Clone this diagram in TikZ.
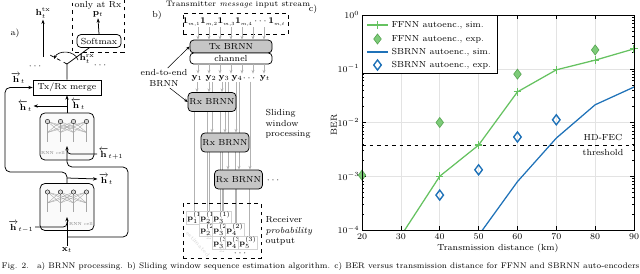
\documentclass[tikz,border=0pt]{standalone}
\usepackage{amsmath}
\usepackage{amssymb}
\usepackage{tikz}
\usetikzlibrary{arrows.meta,shapes.geometric,plotmarks,backgrounds}
\definecolor{ffgreen}{RGB}{102,194,97}
\definecolor{sbblue}{RGB}{31,114,184}
\newcommand{\msub}[1]{\scalebox{0.75}{$\scriptstyle #1$}}

\begin{document}
\begin{tikzpicture}[
    x=0.028cm, y=-0.028cm,
    every node/.style={font=\fontsize{7}{8.5}\selectfont, inner sep=1pt},
    arr/.style={-{Stealth[length=3.5pt,width=2.6pt]}, line width=0.6pt},
    garr/.style={-{Stealth[length=3pt,width=2.4pt]}, draw=gray!60, line width=0.5pt},
    gline/.style={draw=gray!60, line width=0.5pt},
    blk/.style={draw, line width=0.6pt, inner sep=1pt},
    cellbox/.style={draw, line width=0.6pt, rounded corners=4pt, fill=gray!4,
        minimum width=1.51cm, minimum height=1.32cm},
    brnn/.style={draw, line width=0.6pt, rounded corners=3pt, fill=gray!45,
        inner sep=0.5pt},
    pbox/.style={draw=gray!35, fill=white, inner sep=0.5pt,
        font=\fontsize{6}{7}\selectfont},
    txt/.style={align=left, anchor=west},
    tck/.style={line width=0.4pt},
    grd/.style={draw=gray!22, line width=0.4pt},
    net/.pic={
        \foreach \a in {-19.5,-6.5,6.5,19.5}
            \foreach \b in {-19.5,-6.5,6.5,19.5}
                \draw[gray!70, line width=0.3pt] (\a,-15) -- (\b,-4);
        \foreach \a in {-19.5,-6.5,6.5,19.5} {
            \draw[gray!70, line width=0.3pt] (\a,-4) -- (\a,5);
            \draw[fill=gray!30, line width=0.3pt] (\a,-15) circle (2.2);
        }
    }
]
\useasboundingbox (0,0) rectangle (640,274);

\node (alab) at (15,33) {a)};
\node[blk, minimum width=1.9cm, minimum height=0.42cm] (merge) at (67,87.5) {Tx/Rx merge};
\node[blk, rounded corners=3pt, minimum width=1.23cm, minimum height=0.36cm] (softmax) at (99,41) {Softmax};
\node (onlyrx) at (98,5) {only at Rx};
\node (pt) at (98,14) {$\mathbf{p}_t$};
\node (htx) at (43,13) {$\mathbf{h}_t^{\mathrm{tx}}$};
\node (hrx) at (87,59) {$\mathbf{h}_t^{\mathrm{rx}}$};
\node (ldots) at (36,66) {$\cdots$};
\node (rdots) at (101,65) {$\cdots$};
\draw[dashed, line width=0.6pt] (72,-5) -- (72,52) -- (124,52) -- (124,-5);
\coordinate (pivot) at (67,64);
\coordinate (txsw) at (49,54.5);
\coordinate (txbase) at (43,57);
\draw[line width=0.6pt] (merge.north) -- (pivot) -- (softmax.215);
\draw[dashed, line width=0.6pt] (pivot) -- (txsw);
\draw[arr] (txbase) -- (htx.south);
\draw[arr] (softmax.north) -- (pt.south);
\draw[-{Stealth[length=3pt,width=2.4pt]}, line width=0.5pt]
    (78,60) .. controls (75,50) and (58,50) .. (54,59);

\node[cellbox] (bwcell) at (67,136.5) {};
\pic at (67,136.5) {net};
\node[cellbox] (fwcell) at (67,207) {};
\pic at (67,207) {net};
\node[font=\fontsize{3.5}{4}\selectfont, text=gray] (bwname) at (53,153) {RNN cell};
\node[font=\fontsize{3.5}{4}\selectfont, text=gray] (fwname) at (81,224) {RNN cell};
\coordinate (bwsplit) at (67,106);
\coordinate (bwin) at (67,146);
\coordinate (fwin) at (67,217);
\coordinate (fwtop) at (67,172);
\coordinate (fwsplit) at (67,178);
\coordinate (xsplit) at (67,237);
\node (hbwl) at (25,106) {$\overleftarrow{\mathbf{h}}_t$};
\node (hbwr) at (78,104) {$\overleftarrow{\mathbf{h}}_t$};
\node (hfwl) at (18,78) {$\overrightarrow{\mathbf{h}}_t$};
\node (hfwr) at (106,179) {$\overrightarrow{\mathbf{h}}_t$};
\node (hnext) at (111,154) {$\overleftarrow{\mathbf{h}}_{t+1}$};
\node (hprev) at (21,227) {$\overrightarrow{\mathbf{h}}_{t-1}$};
\node (xt) at (67,250) {$\mathbf{x}_t$};
\draw[arr] (bwcell.north) -- (merge.south);
\draw[arr] (bwsplit) -- (hbwl.east);
\draw[arr, rounded corners=4pt] (fwcell.north) -- (fwtop) -- (5,172) |- (merge.west);
\draw[arr] (fwsplit) -- (hfwr.west);
\draw[arr] (xt.north) -- (fwin);
\draw[arr, rounded corners=4pt] (xsplit) -- (128,237) -- (128,167) -- (67,167) -- (bwin);
\draw[line width=0.6pt, rounded corners=3pt] (hnext.west) -- (67,154) -- (67,150);
\draw[line width=0.6pt, rounded corners=3pt] (hprev.east) -- (67,227) -- (67,222);

\node (blab) at (157,15) {b)};
\node[font=\fontsize{6.3}{7}\selectfont] (title) at (238,5) {Transmitter \emph{message} input stream};
\node[draw, dashed, line width=0.6pt, minimum width=2.94cm, minimum height=0.59cm] (msgbox) at (235.5,23.5) {};
\node (msg) at (234,22) {$\mathbf{1}_{\msub{m,1}}\mathbf{1}_{\msub{m,2}}\mathbf{1}_{\msub{m,3}}\mathbf{1}_{\msub{m,4}}\cdots\mathbf{1}_{\msub{m,t}}$};
\node[brnn, minimum width=2.3cm, minimum height=0.36cm] (txbrnn) at (231,46.5) {Tx BRNN};
\node[brnn, fill=white, minimum width=2.3cm, minimum height=0.31cm] (channel) at (231,58.5) {channel};
\node (y1) at (197,78) {$\mathbf{y}_1$};
\node (y2) at (211,78) {$\mathbf{y}_2$};
\node (y3) at (224,78) {$\mathbf{y}_3$};
\node (y4) at (237,78) {$\mathbf{y}_4$};
\node (ydots) at (250,78) {$\cdots$};
\node (yt) at (265,78) {$\mathbf{y}_t$};
\foreach \xx in {198,209,220,231,242,253,264} {
    \draw[garr] (\xx,0 |- msg.south) -- (\xx,0 |- txbrnn.north);
    \draw[garr] (\xx,0 |- channel.south) -- (\xx,0 |- y1.north);
}
\node[brnn, minimum width=1.34cm, minimum height=0.53cm] (rx1) at (212,102) {Rx BRNN};
\node[brnn, minimum width=1.34cm, minimum height=0.53cm] (rx2) at (225,142.5) {Rx BRNN};
\node[brnn, minimum width=1.34cm, minimum height=0.53cm] (rx3) at (238.5,179.5) {Rx BRNN};
\node (rxdots) at (274,180) {$\cdots$};
\node[align=center] (e2e) at (164,78) {end-to-end\\BRNN};
\draw[-{Stealth[length=3pt,width=2.4pt]}, line width=0.4pt] (e2e.70) -- (txbrnn.west);
\draw[-{Stealth[length=3pt,width=2.4pt]}, line width=0.4pt] (e2e.-60) -- (rx1.west);
\node[txt] (slide) at (264,124) {Sliding\\window\\processing};

\node[pbox] (p11) at (196,218) {$\mathbf{p}_1^{(1)}$};
\node[pbox] (p21) at (209,218) {$\mathbf{p}_2^{(1)}$};
\node[pbox] (p31) at (222,218) {$\mathbf{p}_3^{(1)}$};
\node[pbox] (p22) at (209,230) {$\mathbf{p}_2^{(2)}$};
\node[pbox] (p32) at (222,230) {$\mathbf{p}_3^{(2)}$};
\node[pbox] (p42) at (235,230) {$\mathbf{p}_4^{(2)}$};
\node[pbox] (p33) at (222,243) {$\mathbf{p}_3^{(3)}$};
\node[pbox] (p43) at (235,243) {$\mathbf{p}_4^{(3)}$};
\node[pbox] (p53) at (248,243) {$\mathbf{p}_5^{(3)}$};
\node (pdots) at (241,253) {$\cdots$};
\node[rotate=-48, font=\fontsize{4.5}{5}\selectfont, text=gray!35] (estim) at (198,244) {estimated};
\node[font=\fontsize{5}{6}\selectfont, text=gray!40] (sig1) at (209,237) {$\Sigma$};
\node[font=\fontsize{5}{6}\selectfont, text=gray!40] (sig2) at (222,250) {$\Sigma$};
\node[draw, dashed, line width=0.6pt, minimum width=2.18cm, minimum height=1.54cm] (rxout) at (222,230.5) {};
\node[txt] (rxlab) at (264,231) {Receiver\\\emph{probability}\\output};

\begin{scope}[on background layer]
\foreach \xx/\src/\dst in {197/y1/rx1, 209/y2/rx1, 212/y2/rx2, 222/y3/rx1, 225/y3/rx2,
        228/y3/rx3, 236/y4/rx2, 239/y4/rx3, 250/ydots/rx3}
    \draw[garr] (\xx,0 |- \src.south) -- (\xx,0 |- \dst.north);
\foreach \xx/\src/\dst in {194.2/rx1/p11, 207.2/rx1/p21, 220.2/rx1/p31, 209/rx2/p22,
        222/rx2/p32, 235/rx2/p42, 223.8/rx3/p33, 236.8/rx3/p43, 249.8/rx3/p53}
    \draw[gline] (\xx,0 |- \src.south) -- (\xx,0 |- \dst.north);
\end{scope}

\node (clab) at (313,9) {c)};
\begin{scope}[shift={(284.28,15)}, x=0.10881cm, y=1.505cm]
\foreach \k in {30,40,...,80}
    \draw[grd] (\k,-4) -- (\k,0);
\foreach \l in {-1,-2,-3}
    \draw[grd] (20,\l) -- (90,\l);
\foreach \l in {-4,-3,-2,-1}
    \foreach \m in {2,...,9} {
        \draw[tck] (20,{\l+log10(\m)}) -- ++(1.8pt,0);
        \draw[tck] (90,{\l+log10(\m)}) -- ++(-1.8pt,0);
    }
\foreach \l in {-4,-3,-2,-1,0} {
    \draw[tck] (20,\l) -- ++(3.5pt,0);
    \draw[tck] (90,\l) -- ++(-3.5pt,0);
    \node[anchor=east] (yl\l) at ([xshift=-1pt]20,\l) {$10^{\l}$};
}
\foreach \k in {20,30,...,90} {
    \draw[tck] (\k,-4) -- ++(0,3.5pt);
    \draw[tck] (\k,0) -- ++(0,-3.5pt);
    \node[anchor=north] (xl\k) at ([yshift=-2pt]\k,-4) {\k};
}
\begin{scope}
\clip (20,-4) rectangle (90,0);
\draw[ffgreen, line width=1pt] (30,-4.11) -- (40,-3) -- (50,-2.42) -- (60,-1.43)
    -- (70,-1.02) -- (80,-0.84) -- (90,-0.63);
\draw[sbblue, line width=1pt] (50,-4.1) -- (60,-3.1) -- (70,-2.29) -- (80,-1.67) -- (90,-1.34);
\draw[dashed, line width=0.6pt] (20,-2.42) -- (90,-2.42);
\end{scope}
\draw[ffgreen] plot[only marks, mark=+, mark size=3pt, mark options={line width=1pt}]
    coordinates {(40,-3) (50,-2.42) (60,-1.43) (70,-1.02) (80,-0.84) (90,-0.63)};
\draw[ffgreen] plot[only marks, mark=diamond*, mark size=4pt,
    mark options={fill=ffgreen!85, draw=ffgreen!85!black, line width=0.5pt}]
    coordinates {(20,-2.98) (40,-2) (60,-1.1) (80,-0.65)};
\draw[sbblue] plot[only marks, mark=diamond, mark size=4pt,
    mark options={fill=white, draw=sbblue, line width=1.1pt}]
    coordinates {(40,-3.35) (50,-2.88) (60,-2.27) (70,-1.95)};
\draw[line width=0.6pt] (20,-4) rectangle (90,0);
\end{scope}

\node[draw, fill=white, line width=0.6pt, minimum width=3.78cm, minimum height=1.62cm] (legend) at (429.5,44) {};
\draw[ffgreen, line width=1pt] (367,25) -- (388,25);
\draw[ffgreen] plot[only marks, mark=+, mark size=3pt, mark options={line width=1pt}] coordinates {(377.5,25)};
\draw[ffgreen] plot[only marks, mark=diamond*, mark size=4pt,
    mark options={fill=ffgreen!85, draw=ffgreen!85!black, line width=0.5pt}] coordinates {(377.5,39)};
\draw[sbblue, line width=1pt] (367,52) -- (388,52);
\draw[sbblue] plot[only marks, mark=diamond, mark size=4pt,
    mark options={fill=white, draw=sbblue, line width=1.1pt}] coordinates {(377.5,65)};
\node[anchor=west] (lg1) at (390,25) {FFNN autoenc., sim.};
\node[anchor=west] (lg2) at (390,39) {FFNN autoenc., exp.};
\node[anchor=west] (lg3) at (390,52) {SBRNN autoenc., sim.};
\node[anchor=west] (lg4) at (390,65) {SBRNN autoenc., exp.};
\node[rotate=90] (berlab) at (334,125) {BER};
\node (xlab) at (498,248) {Transmission distance (km)};
\node (hdfec) at (603,137) {HD-FEC};
\node (thr) at (603,152) {threshold};

\node[anchor=west, font=\fontsize{6.5}{7.5}\selectfont] (caption) at (0,266) {Fig. 2.\quad a) BRNN processing. b) Sliding window sequence estimation algorithm. c) BER versus transmission distance for FFNN and SBRNN auto-encoders};
\end{tikzpicture}
\end{document}
